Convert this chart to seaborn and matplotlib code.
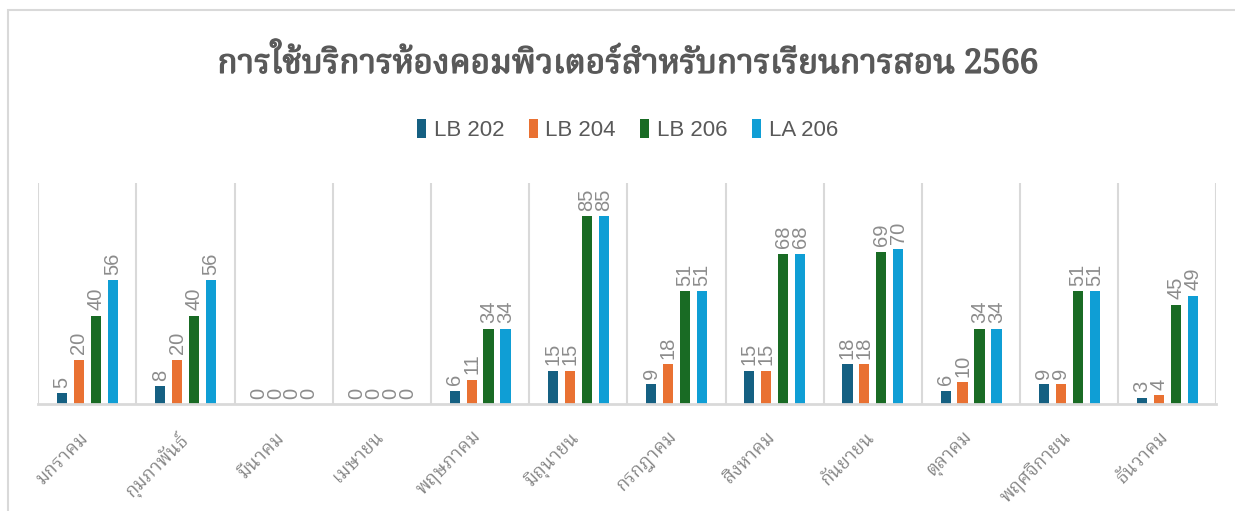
import pandas as pd
import numpy as np
import matplotlib
matplotlib.use("Agg")
import matplotlib.pyplot as plt
from matplotlib.patches import Rectangle
import matplotlib.patheffects as pe
import matplotlib.transforms as mtransforms
import seaborn as sns

months = ['มกราคม', 'กุมภาพันธ์', 'มีนาคม', 'เมษายน', 'พฤษภาคม', 'มิถุนายน',
          'กรกฎาคม', 'สิงหาคม', 'กันยายน', 'ตุลาคม', 'พฤศจิกายน', 'ธันวาคม']
rooms = ['LB 202', 'LB 204', 'LB 206', 'LA 206']
lb202 = [5, 8, 0, 0, 6, 15, 9, 15, 18, 6, 9, 3]
lb204 = [20, 20, 0, 0, 11, 15, 18, 15, 18, 10, 9, 4]
lb206 = [40, 40, 0, 0, 34, 85, 51, 68, 69, 34, 51, 45]
la206 = [56, 56, 0, 0, 34, 85, 51, 68, 70, 34, 51, 49]
room_colors = ['#156082', '#E97132', '#196B24', '#0F9ED5']
title = 'การใช้บริการห้องคอมพิวเตอร์สำหรับการเรียนการสอน 2566'

df = pd.DataFrame({
    'month': months * 4,
    'room': sum([[r] * 12 for r in rooms], []),
    'count': lb202 + lb204 + lb206 + la206,
})

sns.set_theme(style='white')
thai_serif = ['Noto Serif Thai', 'Noto Sans Thai', 'Tlwg Typo', 'Norasi', 'Kinnari',
              'Loma', 'Garuda', 'Liberation Serif', 'DejaVu Sans']
plt.rcParams['font.family'] = ['Liberation Sans', 'DejaVu Sans']

fig = plt.figure(figsize=(12.35, 5.11), dpi=100)
ax = fig.add_axes([0.031, 0.209, 0.954, 0.433])

sns.barplot(data=df, x='month', y='count', hue='room', order=months, hue_order=rooms,
            palette=room_colors, width=0.69, gap=0.4, ax=ax, legend=True,
            saturation=1, edgecolor='none')

ax.set_xlim(-0.5, 11.5)
ax.set_ylim(0, 100)
ax.set_yticks([])
ax.set_xlabel('')
ax.set_ylabel('')
for s in ['top', 'left', 'right']:
    ax.spines[s].set_visible(False)
ax.spines['bottom'].set_color('#d9d9d9')
ax.spines['bottom'].set_linewidth(2)

ax.vlines(np.arange(-0.5, 12, 1), 0, 100, color='#d9d9d9', lw=1.5, zorder=0)

for cont in ax.containers:
    ax.bar_label(cont, labels=[f'{int(v)}' for v in cont.datavalues], rotation=90,
                 padding=4, fontsize=14.5, color='#8c8c8c')

ax.tick_params(axis='x', length=0, pad=20)
ax.set_xticks(range(12))
ax.set_xticklabels(months, rotation=45, ha='right', va='top', rotation_mode='anchor',
                   fontsize=13.5, color='#858585', family=thai_serif)
# nudge labels so the glyphs end just under the category centre
shift = mtransforms.ScaledTranslation(-8 / 100, 4 / 100, fig.dpi_scale_trans)
for lbl in ax.get_xticklabels():
    lbl.set_transform(lbl.get_transform() + shift)

leg = ax.legend(loc='center', bbox_to_anchor=(0.5, 1.24), ncol=4, frameon=False,
                fontsize=16, handlelength=0.4, handleheight=1.0, handletextpad=0.35,
                columnspacing=1.1)
for t in leg.get_texts():
    t.set_color('#595959')

fig.text(0.508, 0.876, title, ha='center', va='center', fontsize=24, fontweight='bold',
         color='#595959', family=thai_serif,
         path_effects=[pe.withStroke(linewidth=1.0, foreground='#595959')])

fig.patches.append(Rectangle((8 / 1235, -0.1), 1.2, (511 - 10) / 511 + 0.1,
                             transform=fig.transFigure, fill=False,
                             edgecolor='#d9d9d9', lw=1.5))

fig.savefig('out.png', dpi=100)
